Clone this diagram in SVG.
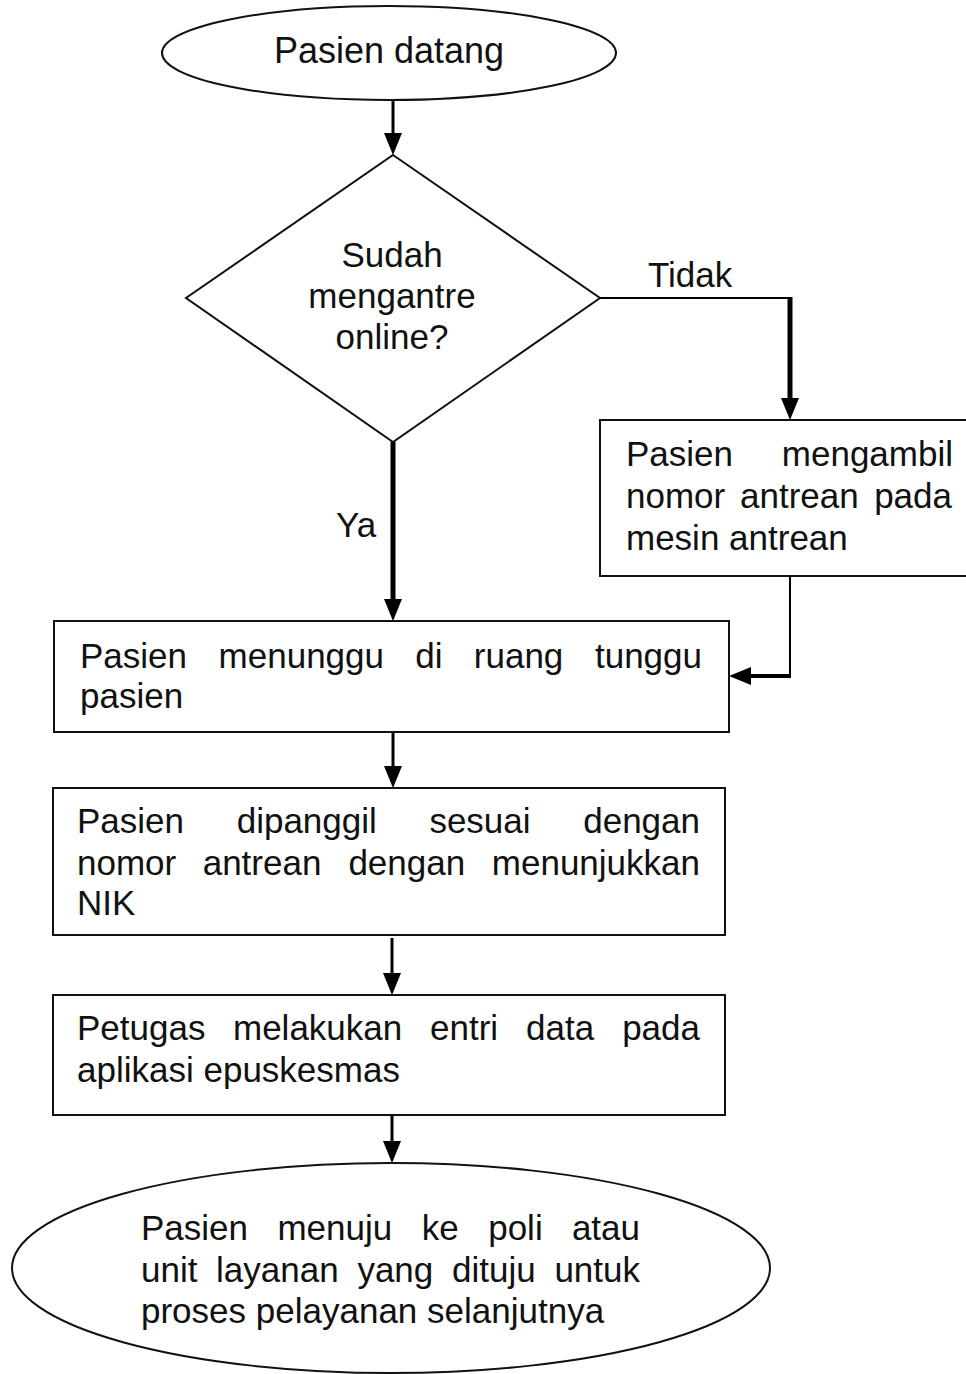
<svg xmlns="http://www.w3.org/2000/svg" width="966" height="1374" viewBox="0 0 966 1374">
<style>
.shape{fill:#fff;stroke:#111;stroke-width:2}
.t{font-family:"Liberation Sans",Arial,sans-serif;font-size:35px;fill:#111}
.c{text-anchor:middle}
.e{text-anchor:end}
.d{font-size:35px}
.ln{fill:none;stroke:#000}
</style>
<defs>
<marker id="ah" viewBox="0 0 22 18" refX="14" refY="9" markerWidth="22" markerHeight="18" markerUnits="userSpaceOnUse" orient="auto">
<path d="M0,0 L22,9 L0,18 z" fill="#000"/>
</marker>
</defs>
<rect width="966" height="1374" fill="#fff"/>

<g id="start">
<ellipse class="shape" cx="389" cy="53" rx="227" ry="47"/>
<text class="t c" x="389" y="63" style="font-size:36px">Pasien datang</text>
</g>

<g id="decision">
<polygon class="shape" points="393,155 600,298 393,442 186,298"/>
<text class="t d c" x="392" y="267">Sudah</text>
<text class="t d c" x="392" y="308">mengantre</text>
<text class="t d c" x="392" y="349">online?</text>
</g>

<g id="take-number">
<rect class="shape" x="600" y="420" width="370" height="156"/>
<text class="t" x="626" y="466">Pasien</text>
<text class="t e" x="953" y="466">mengambil</text>
<text class="t" x="626" y="508">nomor</text>
<text class="t" x="740" y="508">antrean</text>
<text class="t e" x="952" y="508">pada</text>
<text class="t" x="626" y="550">mesin antrean</text>
</g>

<g id="wait">
<rect class="shape" x="54" y="621" width="675" height="111"/>
<text class="t" x="80" y="668">Pasien</text>
<text class="t" x="218.6" y="668">menunggu</text>
<text class="t" x="415.2" y="668">di</text>
<text class="t" x="473.8" y="668">ruang</text>
<text class="t e" x="702" y="668">tunggu</text>
<text class="t" x="80" y="708">pasien</text>
</g>

<g id="called">
<rect class="shape" x="53" y="788" width="672" height="147"/>
<text class="t" x="77" y="833">Pasien</text>
<text class="t" x="236.7" y="833">dipanggil</text>
<text class="t" x="429.4" y="833">sesuai</text>
<text class="t e" x="700" y="833">dengan</text>
<text class="t" x="77" y="875">nomor</text>
<text class="t" x="202.7" y="875">antrean</text>
<text class="t" x="348.4" y="875">dengan</text>
<text class="t e" x="700" y="875">menunjukkan</text>
<text class="t" x="77" y="915">NIK</text>
</g>

<g id="entry">
<rect class="shape" x="53" y="995" width="672" height="120"/>
<text class="t" x="77" y="1040">Petugas</text>
<text class="t" x="233" y="1040">melakukan</text>
<text class="t" x="430" y="1040">entri</text>
<text class="t" x="526" y="1040">data</text>
<text class="t e" x="700" y="1040">pada</text>
<text class="t" x="77" y="1082">aplikasi epuskesmas</text>
</g>

<g id="end">
<ellipse class="shape" cx="391" cy="1268" rx="379" ry="105"/>
<text class="t" x="141" y="1240">Pasien</text>
<text class="t" x="277.4" y="1240">menuju</text>
<text class="t" x="421.8" y="1240">ke</text>
<text class="t" x="488.2" y="1240">poli</text>
<text class="t e" x="640" y="1240">atau</text>
<text class="t" x="141" y="1282">unit</text>
<text class="t" x="216.1" y="1282">layanan</text>
<text class="t" x="357.4" y="1282">yang</text>
<text class="t" x="452" y="1282">dituju</text>
<text class="t e" x="640" y="1282">untuk</text>
<text class="t" x="141" y="1323">proses pelayanan selanjutnya</text>
</g>

<g id="connectors">
<line class="ln" x1="393" y1="100" x2="393" y2="147" stroke-width="3" marker-end="url(#ah)"/>
<line class="ln" x1="393" y1="442" x2="393" y2="613" stroke-width="5" marker-end="url(#ah)"/>
<polyline class="ln" points="600,298 790,298" stroke-width="2"/>
<line class="ln" x1="790" y1="297" x2="790" y2="412" stroke-width="5" marker-end="url(#ah)"/>
<polyline class="ln" points="790,576 790,676" stroke-width="2"/>
<line class="ln" x1="791" y1="676" x2="737" y2="676" stroke-width="4" marker-end="url(#ah)"/>
<line class="ln" x1="393" y1="732" x2="393" y2="780" stroke-width="3" marker-end="url(#ah)"/>
<line class="ln" x1="392" y1="938" x2="392" y2="987" stroke-width="3" marker-end="url(#ah)"/>
<line class="ln" x1="392" y1="1115" x2="392" y2="1155" stroke-width="3" marker-end="url(#ah)"/>
<text class="t" x="648" y="287">Tidak</text>
<text class="t" x="336" y="537">Ya</text>
</g>
</svg>
